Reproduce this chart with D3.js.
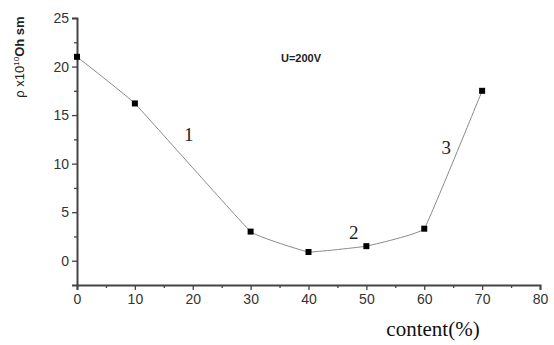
<!DOCTYPE html>
<html>
<head>
<meta charset="utf-8">
<script src="https://cdn.jsdelivr.net/npm/d3@7"></script>
<style>
  body { margin: 0; background: #fff; }
  svg { display: block; }
</style>
</head>
<body>
<svg id="chart" width="554" height="345"></svg>
<script>
// data
var content = [0, 10, 30, 40, 50, 60, 70];
var rho = [21, 16.2, 3, 0.9, 1.5, 3.3, 17.5];
var xTicks = [0, 10, 20, 30, 40, 50, 60, 70, 80];
var yTicks = [0, 5, 10, 15, 20, 25];
var curveLabels = ['1', '2', '3'];
var labelAt = [[18.5, 12.3], [47, 2.2], [63, 11]];

var svg = d3.select('#chart');

var x = d3.scaleLinear().domain([0, 80]).range([77, 540]);
var y = d3.scaleLinear().domain([-2.5, 25]).range([285, 18]);

var axisColor = '#444';

// y axis
svg.append('g')
	.attr('transform', 'translate(' + x(0) + ',0)')
	.call(d3.axisLeft(y).tickValues(yTicks).tickSize(5).tickPadding(3));
svg.append('g')
	.attr('transform', 'translate(' + x(0) + ',0)')
	.call(d3.axisLeft(y).tickValues([2.5, 7.5, 12.5, 17.5, 22.5]).tickSize(3).tickFormat(''))
	.select('.domain').remove();

// x axis
svg.append('g')
	.attr('transform', 'translate(0,' + y(-2.5) + ')')
	.call(d3.axisBottom(x).tickValues(xTicks).tickSize(5).tickPadding(4));
svg.append('g')
	.attr('transform', 'translate(0,' + y(-2.5) + ')')
	.call(d3.axisBottom(x).tickValues([5, 15, 25, 35, 45, 55, 65, 75]).tickSize(3).tickFormat(''))
	.select('.domain').remove();

svg.selectAll('.domain').attr('stroke', axisColor).attr('stroke-width', 2);
svg.selectAll('.tick line').attr('stroke', axisColor).attr('stroke-width', 1.3);
svg.selectAll('.tick text')
	.attr('font-family', 'Liberation Sans, Arial, sans-serif')
	.attr('font-size', 14)
	.attr('fill', '#333');

// the data line
var pts = content.map(function(d, i){ return [d, rho[i]]; });
var line = d3.line()
	.x(function(d){ return x(d[0]); })
	.y(function(d){ return y(d[1]); })
	.curve(d3.curveCardinal.tension(0.8));

svg.append('path')
	.datum(pts)
	.attr('d', line)
	.attr('fill', 'none')
	.attr('stroke', '#8a8a8a')
	.attr('stroke-width', 1);

svg.append('g')
	.selectAll('rect')
	.data(pts)
	.enter()
	.append('rect')
	.attr('x', function(d){ return x(d[0]) - 3; })
	.attr('y', function(d){ return y(d[1]) - 3; })
	.attr('width', 6)
	.attr('height', 6)
	.attr('fill', '#000');

// curve numbers
svg.append('g')
	.selectAll('text')
	.data(curveLabels)
	.enter()
	.append('text')
	.text(function(d){ return d; })
	.attr('x', function(d, i){ return x(labelAt[i][0]); })
	.attr('y', function(d, i){ return y(labelAt[i][1]); })
	.attr('font-family', 'Liberation Serif, Times New Roman, serif')
	.attr('font-size', 19)
	.attr('fill', '#222');

// condition
svg.append('text')
	.attr('x', 281)
	.attr('y', 62)
	.attr('font-family', 'Liberation Sans, Arial, sans-serif')
	.attr('font-weight', 'bold')
	.attr('font-size', 11)
	.attr('fill', '#222')
	.text('U=200V');

// y label
var yl = svg.append('text')
	.attr('transform', 'translate(24,57) rotate(-90)')
	.attr('text-anchor', 'middle')
	.attr('font-family', 'Liberation Sans, Arial, sans-serif')
	.attr('font-size', 13)
	.attr('fill', '#222');
yl.append('tspan').text('ρ x10');
yl.append('tspan').attr('font-size', 8).attr('dy', -5).text('10');
yl.append('tspan').attr('dy', 5).attr('font-weight', 'bold').text('Oh sm');

// x label
svg.append('text')
	.attr('x', 433)
	.attr('y', 336)
	.attr('text-anchor', 'middle')
	.attr('font-family', 'Liberation Serif, Times New Roman, serif')
	.attr('font-size', 21)
	.attr('fill', '#111')
	.text('content(%)');
</script>
</body>
</html>
